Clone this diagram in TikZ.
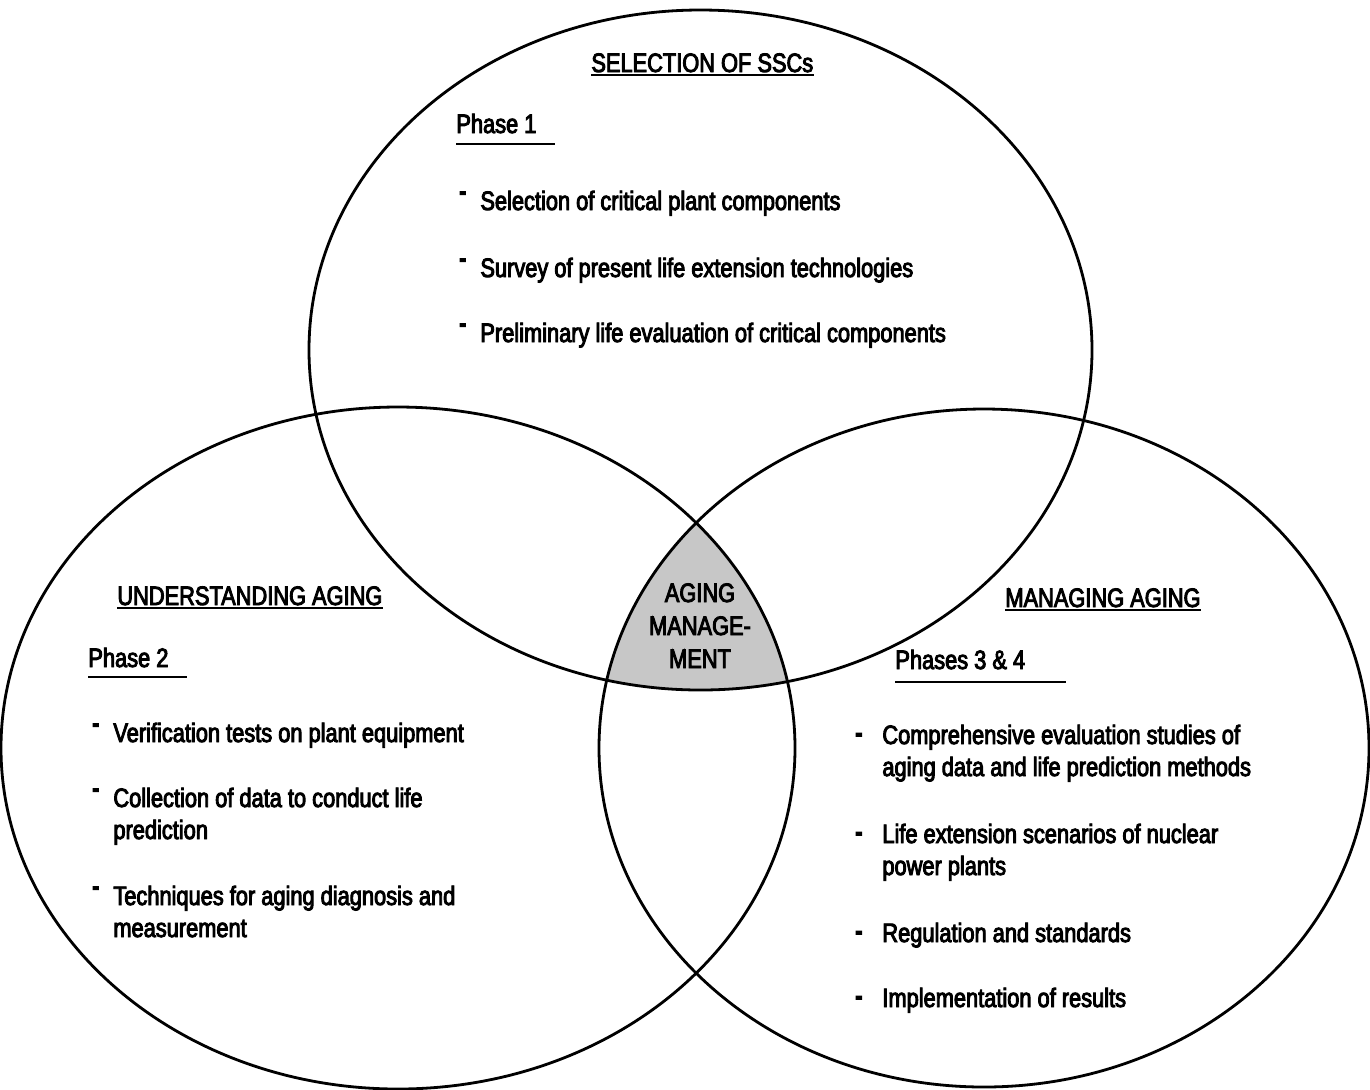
\documentclass[tikz,border=0pt]{standalone}
\usepackage{fontspec}
\setmainfont{Liberation Sans}[FakeStretch=0.82, FakeBold=3.5]
% raised short dash used in front of the items of the upper and left circles
\newcommand{\hidash}{\llap{\raisebox{5pt}{\textbf{-}}\hspace{7pt}}}
% plain dash used in front of the items of the right circle
\newcommand{\lodash}{\llap{\raisebox{1.2pt}{\textbf{-}}\hspace{10pt}}}
\begin{document}
\begin{tikzpicture}[x=0.5pt,y=-0.5pt,
  ring/.style={draw=black, line width=1.4pt},
  core/.style={fill=black!22},
  txt/.style={anchor=base west, inner sep=0pt, font=\fontsize{13.3}{16}\selectfont},
  uline/.style={draw=black, line width=1pt}]
\useasboundingbox (0,0) rectangle (1370,1089);

% centres of the three circles
\coordinate (ctop)   at (700.5,350);
\coordinate (cleft)  at (398,748);
\coordinate (cright) at (984,748);

% shaded common part of all three circles
\begin{scope}
  \clip (ctop) ellipse [x radius=195.75pt, y radius=170pt];
  \clip (cleft) ellipse [x radius=198.5pt, y radius=170.5pt];
  \fill[core] (cright) ellipse [x radius=192.5pt, y radius=169.5pt];
\end{scope}

% the three circles
\draw[ring] (ctop)   ellipse [x radius=195.75pt, y radius=170pt];
\draw[ring] (cleft)  ellipse [x radius=198.5pt, y radius=170.5pt];
\draw[ring] (cright) ellipse [x radius=192.5pt, y radius=169.5pt];

% centre label
\node[inner sep=0pt, anchor=base, font=\fontsize{13.3}{16.5}\selectfont] (am) at (700,602)
  {\begin{tabular}[t]{@{}c@{}}AGING\\MANAGE-\\MENT\end{tabular}};

% ---- upper circle ----
\node[txt] (h1) at (591,72) {SELECTION OF SSCs};
\draw[uline] ([yshift=-1.5pt]h1.base west) -- ([yshift=-1.5pt]h1.base east);
\node[txt] (p1) at (456,133) {Phase 1};
\draw[uline] ([yshift=-5.5pt]p1.base west) -- ++(99,0);
\node[txt] (a1) at (480,210) {\hidash Selection of critical plant components};
\node[txt] (a2) at (480,277) {\hidash Survey of present life extension technologies};
\node[txt] (a3) at (480,342) {\hidash Preliminary life evaluation of critical components};

% ---- left circle ----
\node[txt] (h2) at (117,605) {UNDERSTANDING AGING};
\draw[uline] ([yshift=-1.5pt]h2.base west) -- ([yshift=-1.5pt]h2.base east);
\node[txt] (p2) at (88,667) {Phase 2};
\draw[uline] ([yshift=-5pt]p2.base west) -- ++(99,0);
\node[txt] (b1) at (113,742) {\hidash Verification tests on plant equipment};
\node[txt] (b2) at (113,807) {\hidash\begin{tabular}[t]{@{}l@{}}Collection of data to conduct life\\prediction\end{tabular}};
\node[txt] (b3) at (113,905) {\hidash\begin{tabular}[t]{@{}l@{}}Techniques for aging diagnosis and\\measurement\end{tabular}};

% ---- right circle ----
\node[txt] (h3) at (1005,607) {MANAGING AGING};
\draw[uline] ([yshift=-1.5pt]h3.base west) -- ([yshift=-1.5pt]h3.base east);
\node[txt] (p3) at (895,669) {Phases 3 \& 4};
\draw[uline] ([yshift=-6.5pt]p3.base west) -- ++(171,0);
\node[txt] (c1) at (882,744) {\lodash\begin{tabular}[t]{@{}l@{}}Comprehensive evaluation studies of\\aging data and life prediction methods\end{tabular}};
\node[txt] (c2) at (882,843) {\lodash\begin{tabular}[t]{@{}l@{}}Life extension scenarios of nuclear\\power plants\end{tabular}};
\node[txt] (c3) at (882,942) {\lodash Regulation and standards};
\node[txt] (c4) at (882,1007) {\lodash Implementation of results};
\end{tikzpicture}
\end{document}
